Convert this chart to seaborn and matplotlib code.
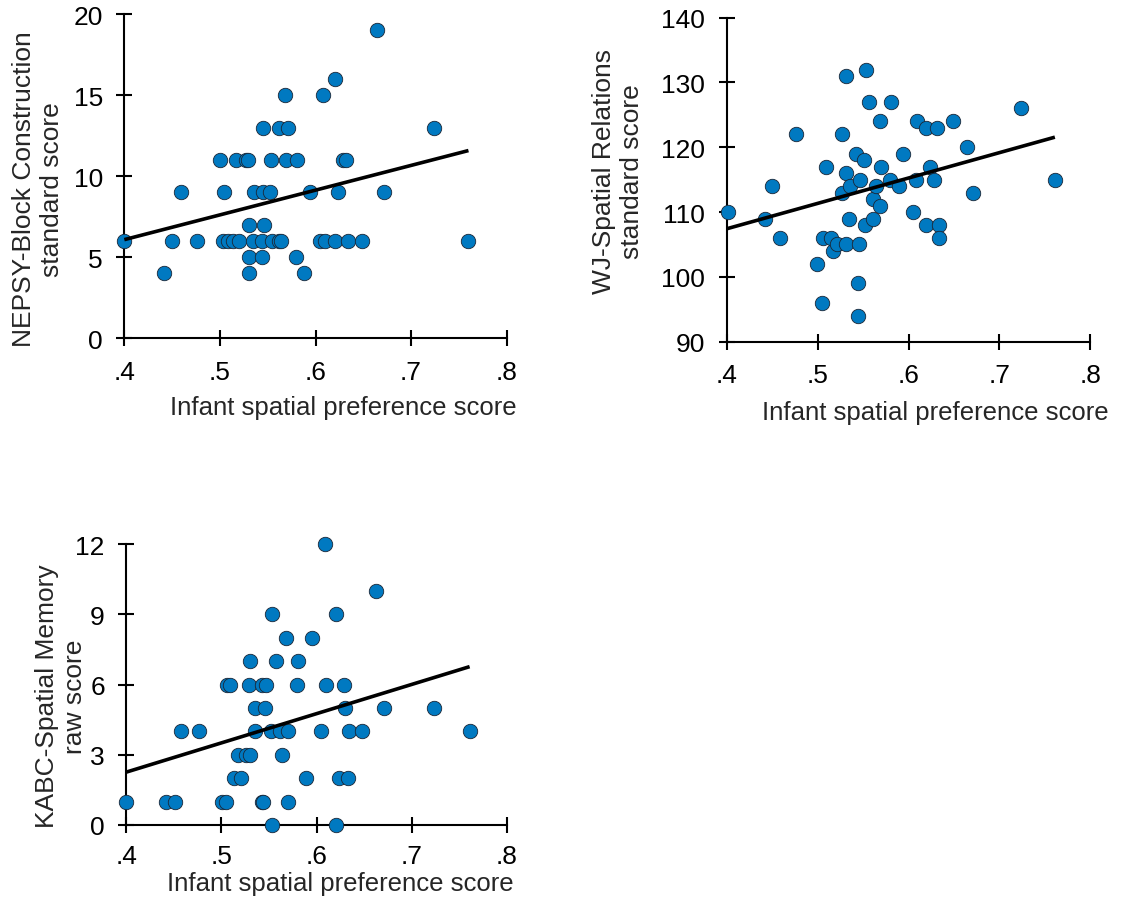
import numpy as np
import matplotlib
matplotlib.use("Agg")
import matplotlib.pyplot as plt
import seaborn as sns

# NEPSY-Block Construction (standard score)
nepsy_x = [.400, .442, .450, .459, .476, .500, .504, .503, .508, .514, .520,
           .517, .527, .529, .530, .530, .530, .535, .536, .545, .546, .544,
           .544, .545, .552, .553, .555, .562, .564, .562, .571, .568, .569,
           .581, .580, .588, .594, .605, .610, .608, .620, .620, .624, .629,
           .632, .634, .649, .664, .672, .724, .760]
nepsy_y = [6, 4, 6, 9, 6, 11, 9, 6, 6, 6, 6,
           11, 11, 11, 7, 5, 4, 6, 9, 13, 7, 6,
           5, 9, 9, 11, 6, 6, 6, 13, 13, 15, 11,
           11, 5, 4, 9, 6, 6, 15, 16, 6, 9, 11,
           11, 6, 6, 19, 9, 13, 6]

# WJ-Spatial Relations (standard score)
wj_x = [.401, .442, .450, .459, .476, .499, .505, .506, .509, .515, .517,
        .521, .527, .527, .531, .531, .531, .536, .535, .542, .544, .544,
        .546, .547, .551, .552, .553, .557, .561, .561, .564, .569, .569,
        .570, .580, .581, .589, .594, .605, .608, .609, .619, .619, .624,
        .628, .631, .633, .633, .649, .664, .671, .724, .761]
wj_y = [110, 109, 114, 106, 122, 102, 96, 106, 117, 106, 104,
        105, 122, 113, 116, 131, 105, 114, 109, 119, 99, 94,
        105, 115, 118, 108, 132, 127, 112, 109, 114, 124, 111,
        117, 115, 127, 114, 119, 110, 115, 124, 123, 108, 117,
        115, 123, 108, 106, 124, 120, 113, 126, 115]

# KABC-Spatial Memory (raw score)
kabc_x = [.400, .442, .451, .458, .476, .501, .505, .506, .509, .513, .521,
          .517, .526, .530, .530, .529, .535, .535, .543, .544, .543, .547,
          .546, .553, .553, .552, .562, .570, .557, .564, .568, .570, .581,
          .580, .589, .595, .605, .609, .610, .620, .620, .624, .633, .629,
          .630, .634, .648, .663, .671, .724, .761]
kabc_y = [1, 1, 1, 4, 4, 1, 1, 6, 6, 2, 2,
          3, 3, 3, 7, 6, 5, 4, 1, 1, 6, 6,
          5, 0, 9, 4, 4, 4, 7, 3, 8, 1, 7,
          6, 2, 8, 4, 12, 6, 9, 0, 2, 2, 6,
          5, 4, 4, 10, 5, 5, 4]

x_ticks = [.4, .5, .6, .7, .8]
x_tick_labels = ['.4', '.5', '.6', '.7', '.8']
x_label = 'Infant spatial preference score'

panels = [
    dict(x=nepsy_x, y=nepsy_y, ylabel='NEPSY-Block Construction\nstandard score',
         yticks=[0, 5, 10, 15, 20], rect=[0.1107, 0.6243, 0.3405, 0.3588],
         ylab_xy=(-0.158, 0.463), xlab_xy=(0.573, -0.176), xpad=10),
    dict(x=wj_x, y=wj_y, ylabel='WJ-Spatial Relations\nstandard score',
         yticks=[90, 100, 110, 120, 130, 140], rect=[0.6471, 0.6205, 0.3238, 0.3588],
         ylab_xy=(-0.227, 0.528), xlab_xy=(0.574, -0.180), xpad=10),
    dict(x=kabc_x, y=kabc_y, ylabel='KABC-Spatial Memory\nraw score',
         yticks=[0, 3, 6, 9, 12], rect=[0.1125, 0.0853, 0.3387, 0.3108],
         ylab_xy=(-0.103, 0.461), xlab_xy=(0.562, -0.163), xpad=8),
]

sns.set_style("ticks")
plt.rcParams['font.family'] = ['Liberation Sans', 'DejaVu Sans']
plt.rcParams['text.color'] = 'black'

point_color = '#0079C1'

fig = plt.figure(figsize=(11.23, 9.03), dpi=100)

for p in panels:
    ax = fig.add_axes(p['rect'])
    sns.regplot(x=np.array(p['x']), y=np.array(p['y']), ax=ax, ci=None,
                scatter_kws=dict(s=108, color=point_color, edgecolor='#1a2636',
                                 linewidths=0.6, alpha=1, clip_on=False, zorder=3),
                line_kws=dict(color='black', lw=2.6, zorder=4, solid_capstyle='butt'))
    ax.set_xlim(0.4, 0.8)
    ax.set_ylim(p['yticks'][0], p['yticks'][-1])
    ax.set_xticks(x_ticks)
    ax.set_xticklabels(x_tick_labels)
    ax.set_yticks(p['yticks'])
    ax.tick_params(direction='inout', length=11, width=1.5, labelsize=19,
                   pad=10, colors='black')
    ax.tick_params(axis='x', pad=p['xpad'])
    for side in ['top', 'right']:
        ax.spines[side].set_visible(False)
    for side in ['left', 'bottom']:
        ax.spines[side].set_linewidth(1.5)
        ax.spines[side].set_color('black')
    ax.set_xlabel(x_label, fontsize=18.5)
    ax.set_ylabel(p['ylabel'], fontsize=19)
    ax.xaxis.set_label_coords(*p['xlab_xy'])
    ax.yaxis.set_label_coords(*p['ylab_xy'])
    ax.set_facecolor('none')

fig.savefig('out.png', dpi=100)
